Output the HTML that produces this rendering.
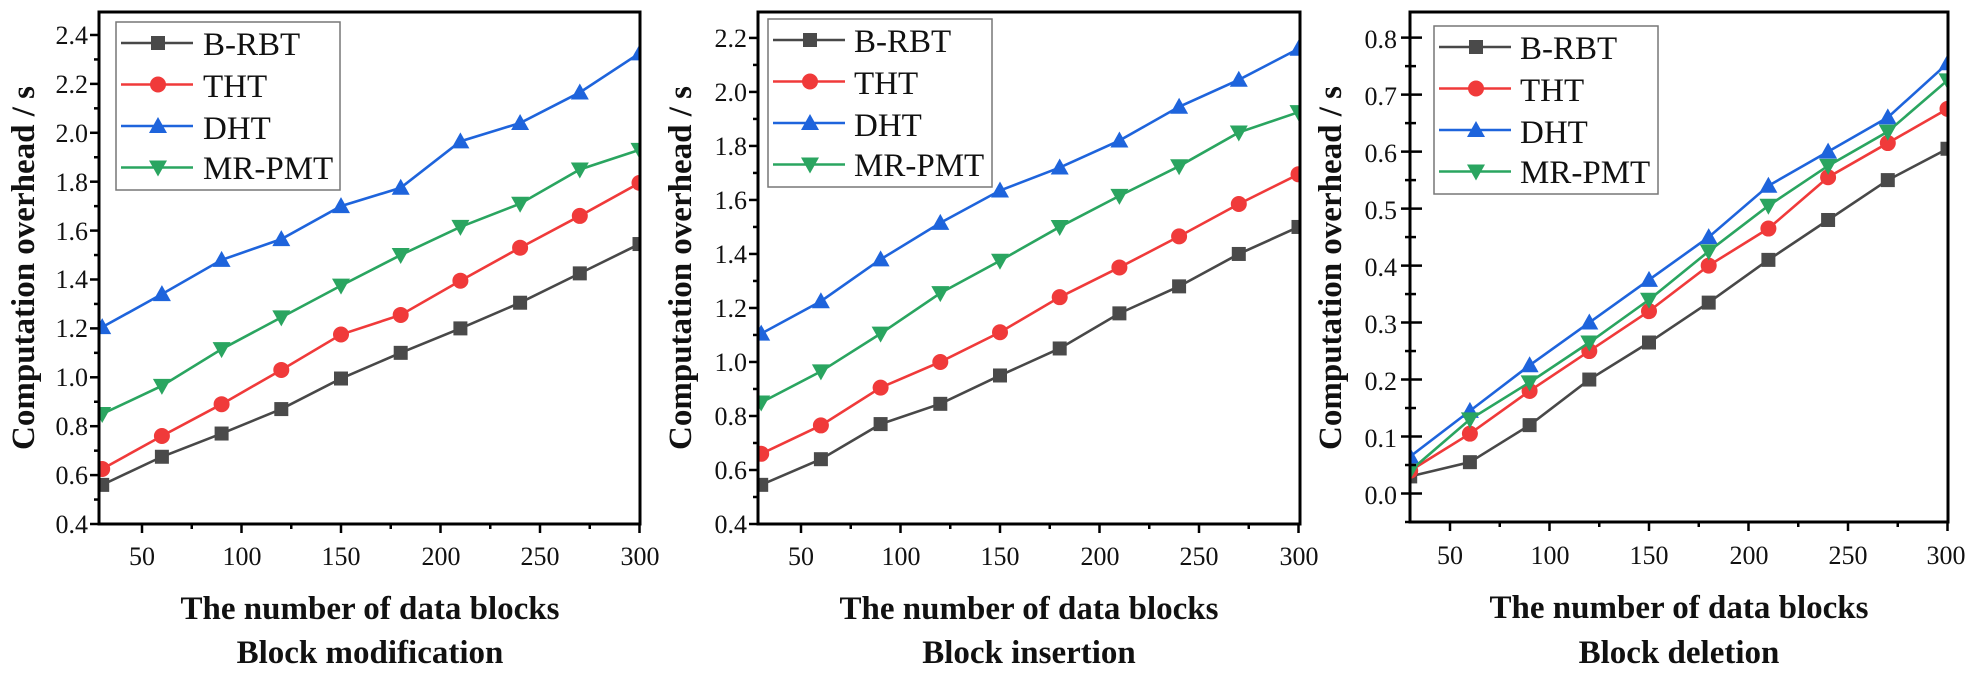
<!DOCTYPE html>
<html><head><meta charset="utf-8"><style>
html,body{margin:0;padding:0;background:#fff;}
svg{display:block;}
text{font-family:"Liberation Serif",serif;fill:#111;}
.tk{font-size:26px;}
.lg{font-size:33px;}
.tt{font-size:33px;font-weight:bold;}
</style></head><body>
<svg id="s" width="1983" height="676" viewBox="0 0 1983 676" xmlns="http://www.w3.org/2000/svg">
<defs>
<clipPath id="c1"><rect x="99" y="12" width="541" height="512"/></clipPath>
<clipPath id="c2"><rect x="758" y="12" width="542" height="512"/></clipPath>
<clipPath id="c3"><rect x="1410" y="12" width="538" height="510"/></clipPath>
</defs>
<g id="plots"></g>
<!-- Panel 1 labels -->
<g class="tk" text-anchor="end">
<text x="88" y="533">0.4</text><text x="88" y="484">0.6</text><text x="88" y="435">0.8</text><text x="88" y="386">1.0</text><text x="88" y="337">1.2</text><text x="88" y="288">1.4</text><text x="88" y="240">1.6</text><text x="88" y="191">1.8</text><text x="88" y="142">2.0</text><text x="88" y="93">2.2</text><text x="88" y="44">2.4</text>
</g>
<g class="tk" text-anchor="middle">
<text x="142" y="565">50</text><text x="242" y="565">100</text><text x="341" y="565">150</text><text x="441" y="565">200</text><text x="540" y="565">250</text><text x="640" y="565">300</text>
</g>
<text class="tt" x="370" y="619" text-anchor="middle">The number of data blocks</text>
<text class="tt" x="370" y="663" text-anchor="middle">Block modification</text>
<text class="tt" transform="translate(34,268) rotate(-90)" text-anchor="middle">Computation overhead / s</text>
<!-- Panel 2 labels -->
<g class="tk" text-anchor="end">
<text x="747" y="533">0.4</text><text x="747" y="479">0.6</text><text x="747" y="425">0.8</text><text x="747" y="371">1.0</text><text x="747" y="317">1.2</text><text x="747" y="263">1.4</text><text x="747" y="209">1.6</text><text x="747" y="155">1.8</text><text x="747" y="101">2.0</text><text x="747" y="47">2.2</text>
</g>
<g class="tk" text-anchor="middle">
<text x="801" y="565">50</text><text x="901" y="565">100</text><text x="1000" y="565">150</text><text x="1100" y="565">200</text><text x="1199" y="565">250</text><text x="1299" y="565">300</text>
</g>
<text class="tt" x="1029" y="619" text-anchor="middle">The number of data blocks</text>
<text class="tt" x="1029" y="663" text-anchor="middle">Block insertion</text>
<text class="tt" transform="translate(691,268) rotate(-90)" text-anchor="middle">Computation overhead / s</text>
<!-- Panel 3 labels -->
<g class="tk" text-anchor="end">
<text x="1397" y="504">0.0</text><text x="1397" y="447">0.1</text><text x="1397" y="390">0.2</text><text x="1397" y="333">0.3</text><text x="1397" y="276">0.4</text><text x="1397" y="219">0.5</text><text x="1397" y="162">0.6</text><text x="1397" y="105">0.7</text><text x="1397" y="48">0.8</text>
</g>
<g class="tk" text-anchor="middle">
<text x="1450" y="564">50</text><text x="1550" y="564">100</text><text x="1649" y="564">150</text><text x="1749" y="564">200</text><text x="1848" y="564">250</text><text x="1946" y="564">300</text>
</g>
<text class="tt" x="1679" y="618" text-anchor="middle">The number of data blocks</text>
<text class="tt" x="1679" y="663" text-anchor="middle">Block deletion</text>
<text class="tt" transform="translate(1341,268) rotate(-90)" text-anchor="middle">Computation overhead / s</text>
<!-- Legends -->
<g class="lg">
<text x="203" y="55">B-RBT</text><text x="203" y="97">THT</text><text x="203" y="139">DHT</text><text x="203" y="179">MR-PMT</text>
<text x="854" y="52">B-RBT</text><text x="854" y="94">THT</text><text x="854" y="136">DHT</text><text x="854" y="176">MR-PMT</text>
<text x="1520" y="59">B-RBT</text><text x="1520" y="101">THT</text><text x="1520" y="143">DHT</text><text x="1520" y="183">MR-PMT</text>
</g>
</svg>
<script>
(function(){
var NS="http://www.w3.org/2000/svg",g=document.getElementById("plots");
function el(t,a,p){var e=document.createElementNS(NS,t);for(var k in a)e.setAttribute(k,a[k]);(p||g).appendChild(e);return e;}
var cols=["#484848","#f03a3a","#1e64dc","#2aa560"];
var panels=[
 {l:99,r:640,t:12,b:524,p50:142,ymin:0.4,ymax:2.494,maj:0.2,y0:0.4,y1:2.4,both:false,clip:"c1",lg:[116,22],
  d:[[.56,.675,.77,.87,.995,1.10,1.20,1.305,1.425,1.545],[.625,.76,.89,1.03,1.175,1.255,1.395,1.53,1.66,1.795],[1.205,1.34,1.48,1.565,1.70,1.775,1.965,2.04,2.165,2.325],[.85,.965,1.115,1.245,1.375,1.50,1.615,1.71,1.85,1.93]]},
 {l:758,r:1300,t:12,b:524,p50:801,ymin:0.4,ymax:2.296,maj:0.2,y0:0.4,y1:2.2,both:false,clip:"c2",lg:[768,19],
  d:[[.545,.64,.77,.845,.95,1.05,1.18,1.28,1.40,1.50],[.66,.765,.905,1.0,1.11,1.24,1.35,1.465,1.585,1.695],[1.105,1.225,1.38,1.515,1.635,1.72,1.82,1.945,2.045,2.16],[.85,.965,1.105,1.255,1.375,1.50,1.615,1.725,1.85,1.925]]},
 {l:1410,r:1948,t:12,b:522,p50:1450,ymin:-0.05,ymax:0.845,maj:0.1,y0:0,y1:0.8,both:true,clip:"c3",lg:[1434,26],
  d:[[.03,.055,.12,.20,.265,.335,.41,.48,.55,.605],[.04,.105,.18,.25,.32,.40,.465,.555,.615,.675],[.065,.145,.225,.30,.375,.45,.54,.60,.66,.755],[.04,.13,.195,.265,.34,.425,.505,.575,.635,.725]]}
];
function marker(i,x,y,p){
 var c=cols[i];
 if(i==0) el("rect",{x:x-7,y:y-7,width:14,height:14,fill:"#4a4a4a"},p);
 else if(i==1) el("circle",{cx:x,cy:y,r:8,fill:c},p);
 else if(i==2) el("polygon",{points:(x)+","+(y-9)+" "+(x-9)+","+(y+7)+" "+(x+9)+","+(y+7),fill:c},p);
 else el("polygon",{points:(x)+","+(y+9)+" "+(x-9)+","+(y-7)+" "+(x+9)+","+(y-7),fill:c},p);
}
panels.forEach(function(P){
 var sx=1.99, X=function(v){return P.p50+(v-50)*sx;}, Y=function(v){return P.b-(v-P.ymin)/(P.ymax-P.ymin)*(P.b-P.t);};
 var cg=el("g",{"clip-path":"url(#"+P.clip+")"});
 P.d.forEach(function(s,i){
  var pts=s.map(function(v,k){return X(30+30*k)+","+Y(v);}).join(" ");
  el("polyline",{points:pts,fill:"none",stroke:cols[i],"stroke-width":2.6},cg);
  s.forEach(function(v,k){marker(i,X(30+30*k),Y(v),cg);});
 });
 // frame
 el("rect",{x:P.l,y:P.t,width:P.r-P.l,height:P.b-P.t,fill:"none",stroke:"#000","stroke-width":3});
 // x ticks
 for(var v=50;v<=300;v+=25){var x=X(v);if(x>P.r+1)x=P.r;var L=(v%50==0)?9:5;el("line",{x1:x,y1:P.b,x2:x,y2:P.b+L,stroke:"#000","stroke-width":2.5});}
 // y ticks
 var n=Math.round((P.y1-P.y0)/P.maj*2);
 for(var k=-1;k<=n+1;k++){var v=P.y0+k*P.maj/2;var y=Y(v);if(y>P.b||y<P.t)continue;var maj=(k%2==0);var L=maj?9:5;
  el("line",{x1:P.l-L,y1:y,x2:P.both?P.l+(maj?12:6):P.l,y2:y,stroke:"#000","stroke-width":2.5});}
 // legend
 var lx=P.lg[0],ly=P.lg[1];
 el("rect",{x:lx,y:ly,width:224,height:168,fill:"#fff",stroke:"#777","stroke-width":1.5});
 for(var i=0;i<4;i++){var yy=ly+21+i*41.5;el("line",{x1:lx+5,y1:yy,x2:lx+77,y2:yy,stroke:cols[i],"stroke-width":2.6});marker(i,lx+42,yy);}
});
})();
</script>
</body></html>
